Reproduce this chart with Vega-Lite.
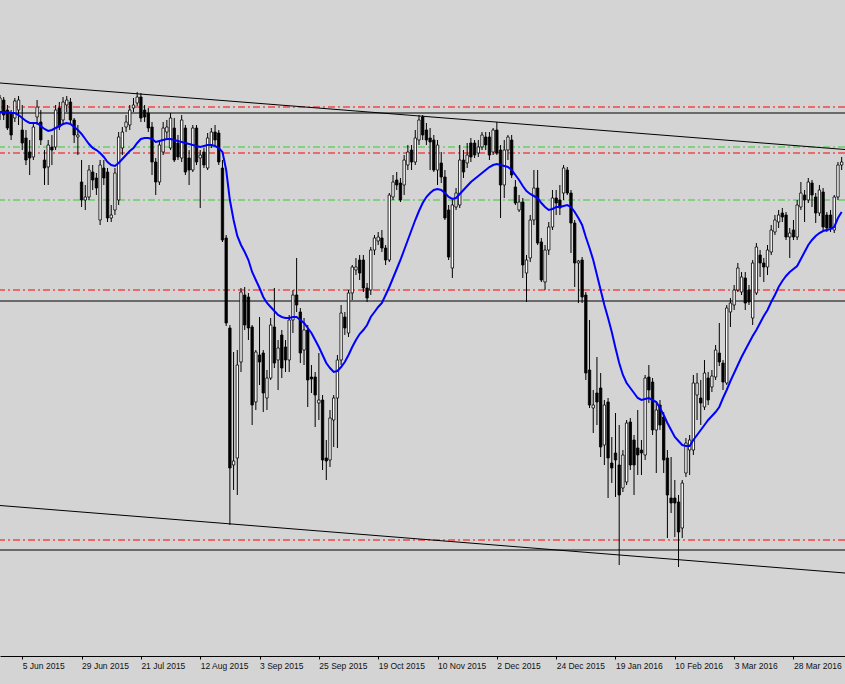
{
"$schema": "https://vega.github.io/schema/vega-lite/v6.json",
"width": 845, "height": 656,
"autosize": {"type": "none"},
"padding": {"left": 0, "top": 0, "right": 0, "bottom": 28},
"background": "#d4d4d4",
"config": {"view": {"stroke": null}},
"datasets": {
"lv": [
{"p": 893, "k": "red"}, {"p": 847, "k": "red"}, {"p": 710, "k": "red"}, {"p": 460, "k": "red"},
{"p": 853, "k": "green"}, {"p": 800, "k": "green"},
{"p": 887, "k": "black"}, {"p": 699, "k": "black"}, {"p": 450, "k": "black"}
],
"tl": [
{"t": "a", "i": 0, "p": 917}, {"t": "a", "i": 227.9, "p": 850.5},
{"t": "b", "i": 0, "p": 494.5}, {"t": "b", "i": 227.9, "p": 427}
],
"c": [
{"i":0,"o":888,"c":902,"h":905,"l":880,"m":888},
{"i":1,"o":900,"c":885,"h":903,"l":880,"m":888},
{"i":2,"o":890,"c":872,"h":895,"l":870,"m":888},
{"i":3,"o":887,"c":865,"h":890,"l":860,"m":887},
{"i":4,"o":882,"c":899,"h":902,"l":878,"m":887},
{"i":5,"o":890,"c":900,"h":904,"l":875,"m":885},
{"i":6,"o":870,"c":857,"h":895,"l":850,"m":882},
{"i":7,"o":862,"c":840,"h":870,"l":835,"m":879},
{"i":8,"o":848,"c":842,"h":860,"l":825,"m":877},
{"i":9,"o":843,"c":873,"h":878,"l":840,"m":877},
{"i":10,"o":883,"c":893,"h":900,"l":875,"m":877},
{"i":11,"o":878,"c":860,"h":890,"l":855,"m":874},
{"i":12,"o":840,"c":832,"h":850,"l":815,"m":871},
{"i":13,"o":833,"c":855,"h":860,"l":815,"m":869},
{"i":14,"o":853,"c":850,"h":865,"l":835,"m":870},
{"i":15,"o":853,"c":890,"h":895,"l":850,"m":872},
{"i":16,"o":892,"c":873,"h":898,"l":870,"m":874},
{"i":17,"o":880,"c":898,"h":903,"l":875,"m":876},
{"i":18,"o":895,"c":900,"h":904,"l":888,"m":877},
{"i":19,"o":898,"c":880,"h":902,"l":875,"m":876},
{"i":20,"o":880,"c":865,"h":882,"l":857,"m":873},
{"i":21,"o":863,"c":865,"h":875,"l":845,"m":870},
{"i":22,"o":818,"c":800,"h":840,"l":793,"m":866},
{"i":23,"o":800,"c":803,"h":815,"l":790,"m":861},
{"i":24,"o":803,"c":830,"h":835,"l":800,"m":856},
{"i":25,"o":828,"c":820,"h":835,"l":810,"m":852},
{"i":26,"o":822,"c":812,"h":827,"l":805,"m":850},
{"i":27,"o":780,"c":835,"h":840,"l":775,"m":847},
{"i":28,"o":832,"c":822,"h":840,"l":815,"m":843},
{"i":29,"o":828,"c":782,"h":832,"l":778,"m":838},
{"i":30,"o":782,"c":785,"h":795,"l":778,"m":835},
{"i":31,"o":790,"c":827,"h":832,"l":785,"m":834},
{"i":32,"o":800,"c":863,"h":868,"l":795,"m":837},
{"i":33,"o":852,"c":868,"h":873,"l":845,"m":841},
{"i":34,"o":873,"c":878,"h":885,"l":868,"m":845},
{"i":35,"o":875,"c":890,"h":895,"l":870,"m":849},
{"i":36,"o":892,"c":895,"h":902,"l":888,"m":852},
{"i":37,"o":897,"c":903,"h":908,"l":894,"m":857},
{"i":38,"o":903,"c":882,"h":907,"l":878,"m":861},
{"i":39,"o":890,"c":883,"h":895,"l":878,"m":862},
{"i":40,"o":887,"c":872,"h":892,"l":868,"m":862},
{"i":41,"o":873,"c":838,"h":878,"l":825,"m":861},
{"i":42,"o":838,"c":818,"h":842,"l":805,"m":858},
{"i":43,"o":818,"c":855,"h":860,"l":815,"m":859},
{"i":44,"o":848,"c":872,"h":878,"l":845,"m":860},
{"i":45,"o":868,"c":873,"h":880,"l":862,"m":861},
{"i":46,"o":852,"c":882,"h":887,"l":850,"m":861},
{"i":47,"o":872,"c":840,"h":882,"l":838,"m":860},
{"i":48,"o":857,"c":843,"h":865,"l":840,"m":859},
{"i":49,"o":842,"c":880,"h":885,"l":838,"m":858},
{"i":50,"o":872,"c":828,"h":875,"l":825,"m":857},
{"i":51,"o":842,"c":830,"h":850,"l":815,"m":856},
{"i":52,"o":830,"c":872,"h":875,"l":828,"m":855},
{"i":53,"o":872,"c":838,"h":875,"l":835,"m":854},
{"i":54,"o":842,"c":845,"h":850,"l":792,"m":853},
{"i":55,"o":848,"c":835,"h":852,"l":832,"m":854},
{"i":56,"o":832,"c":862,"h":867,"l":830,"m":855},
{"i":57,"o":855,"c":868,"h":872,"l":852,"m":855},
{"i":58,"o":868,"c":860,"h":875,"l":855,"m":854},
{"i":59,"o":867,"c":838,"h":870,"l":835,"m":852},
{"i":60,"o":832,"c":760,"h":840,"l":758,"m":848},
{"i":61,"o":762,"c":677,"h":765,"l":674,"m":830},
{"i":62,"o":672,"c":532,"h":675,"l":475,"m":800},
{"i":63,"o":535,"c":539,"h":648,"l":510,"m":780},
{"i":64,"o":542,"c":635,"h":650,"l":505,"m":764},
{"i":65,"o":638,"c":708,"h":712,"l":628,"m":755},
{"i":66,"o":705,"c":675,"h":713,"l":670,"m":748},
{"i":67,"o":703,"c":672,"h":707,"l":660,"m":740},
{"i":68,"o":673,"c":595,"h":675,"l":575,"m":728},
{"i":69,"o":598,"c":648,"h":650,"l":590,"m":720},
{"i":70,"o":645,"c":638,"h":683,"l":615,"m":712},
{"i":71,"o":647,"c":607,"h":650,"l":588,"m":703},
{"i":72,"o":602,"c":622,"h":630,"l":590,"m":697},
{"i":73,"o":622,"c":675,"h":682,"l":620,"m":693},
{"i":74,"o":673,"c":637,"h":712,"l":632,"m":689},
{"i":75,"o":640,"c":652,"h":660,"l":610,"m":685},
{"i":76,"o":665,"c":632,"h":670,"l":622,"m":683},
{"i":77,"o":653,"c":640,"h":660,"l":628,"m":682},
{"i":78,"o":640,"c":680,"h":685,"l":628,"m":682},
{"i":79,"o":680,"c":705,"h":710,"l":667,"m":683},
{"i":80,"o":705,"c":695,"h":742,"l":688,"m":683},
{"i":81,"o":688,"c":647,"h":692,"l":637,"m":680},
{"i":82,"o":650,"c":670,"h":682,"l":635,"m":677},
{"i":83,"o":670,"c":620,"h":675,"l":593,"m":672},
{"i":84,"o":623,"c":621,"h":635,"l":607,"m":667},
{"i":85,"o":623,"c":605,"h":628,"l":573,"m":660},
{"i":86,"o":597,"c":600,"h":647,"l":580,"m":653},
{"i":87,"o":600,"c":540,"h":605,"l":530,"m":645},
{"i":88,"o":542,"c":539,"h":560,"l":520,"m":637},
{"i":89,"o":540,"c":582,"h":590,"l":533,"m":632},
{"i":90,"o":580,"c":602,"h":605,"l":553,"m":628},
{"i":91,"o":602,"c":640,"h":645,"l":552,"m":629},
{"i":92,"o":640,"c":687,"h":695,"l":635,"m":633},
{"i":93,"o":683,"c":672,"h":688,"l":665,"m":638},
{"i":94,"o":667,"c":707,"h":710,"l":663,"m":645},
{"i":95,"o":707,"c":733,"h":735,"l":700,"m":653},
{"i":96,"o":730,"c":733,"h":742,"l":725,"m":660},
{"i":97,"o":740,"c":727,"h":745,"l":720,"m":666},
{"i":98,"o":740,"c":712,"h":745,"l":708,"m":670},
{"i":99,"o":712,"c":702,"h":717,"l":698,"m":675},
{"i":100,"o":710,"c":750,"h":753,"l":705,"m":683},
{"i":101,"o":750,"c":762,"h":765,"l":745,"m":688},
{"i":102,"o":759,"c":763,"h":768,"l":755,"m":693},
{"i":103,"o":762,"c":752,"h":770,"l":748,"m":697},
{"i":104,"o":752,"c":740,"h":755,"l":735,"m":705},
{"i":105,"o":740,"c":805,"h":807,"l":738,"m":713},
{"i":106,"o":803,"c":818,"h":825,"l":800,"m":722},
{"i":107,"o":820,"c":815,"h":828,"l":810,"m":731},
{"i":108,"o":817,"c":800,"h":822,"l":798,"m":740},
{"i":109,"o":815,"c":840,"h":845,"l":805,"m":750},
{"i":110,"o":835,"c":848,"h":855,"l":830,"m":760},
{"i":111,"o":850,"c":838,"h":855,"l":830,"m":770},
{"i":112,"o":838,"c":862,"h":870,"l":835,"m":780},
{"i":113,"o":860,"c":880,"h":885,"l":855,"m":789},
{"i":114,"o":883,"c":865,"h":885,"l":860,"m":797},
{"i":115,"o":870,"c":860,"h":877,"l":855,"m":803},
{"i":116,"o":862,"c":858,"h":872,"l":830,"m":807},
{"i":117,"o":860,"c":830,"h":865,"l":828,"m":810},
{"i":118,"o":830,"c":855,"h":860,"l":815,"m":811},
{"i":119,"o":837,"c":823,"h":848,"l":817,"m":810},
{"i":120,"o":823,"c":782,"h":830,"l":780,"m":807},
{"i":121,"o":790,"c":743,"h":795,"l":740,"m":803},
{"i":122,"o":732,"c":795,"h":800,"l":722,"m":801},
{"i":123,"o":793,"c":807,"h":812,"l":790,"m":802},
{"i":124,"o":795,"c":840,"h":855,"l":792,"m":806},
{"i":125,"o":840,"c":828,"h":850,"l":822,"m":810},
{"i":126,"o":837,"c":845,"h":857,"l":832,"m":814},
{"i":127,"o":857,"c":843,"h":862,"l":838,"m":818},
{"i":128,"o":857,"c":845,"h":860,"l":842,"m":821},
{"i":129,"o":847,"c":853,"h":860,"l":843,"m":824},
{"i":130,"o":853,"c":865,"h":868,"l":850,"m":827},
{"i":131,"o":863,"c":855,"h":868,"l":850,"m":830},
{"i":132,"o":863,"c":845,"h":868,"l":840,"m":833},
{"i":133,"o":848,"c":870,"h":872,"l":845,"m":835},
{"i":134,"o":870,"c":847,"h":878,"l":845,"m":836},
{"i":135,"o":850,"c":815,"h":855,"l":782,"m":835},
{"i":136,"o":815,"c":850,"h":860,"l":802,"m":834},
{"i":137,"o":850,"c":863,"h":865,"l":840,"m":833},
{"i":138,"o":860,"c":825,"h":865,"l":822,"m":830},
{"i":139,"o":813,"c":797,"h":820,"l":795,"m":825},
{"i":140,"o":790,"c":798,"h":805,"l":788,"m":820},
{"i":141,"o":798,"c":735,"h":802,"l":722,"m":814},
{"i":142,"o":727,"c":740,"h":745,"l":698,"m":809},
{"i":143,"o":742,"c":780,"h":785,"l":738,"m":806},
{"i":144,"o":780,"c":812,"h":830,"l":775,"m":804},
{"i":145,"o":812,"c":757,"h":830,"l":755,"m":802},
{"i":146,"o":758,"c":720,"h":762,"l":718,"m":797},
{"i":147,"o":718,"c":750,"h":755,"l":710,"m":793},
{"i":148,"o":750,"c":773,"h":778,"l":745,"m":790},
{"i":149,"o":773,"c":802,"h":810,"l":770,"m":791},
{"i":150,"o":802,"c":797,"h":810,"l":785,"m":793},
{"i":151,"o":800,"c":792,"h":815,"l":785,"m":793},
{"i":152,"o":807,"c":832,"h":835,"l":800,"m":794},
{"i":153,"o":830,"c":807,"h":833,"l":805,"m":795},
{"i":154,"o":807,"c":777,"h":810,"l":747,"m":793},
{"i":155,"o":777,"c":737,"h":780,"l":713,"m":788},
{"i":156,"o":737,"c":739,"h":740,"l":697,"m":782},
{"i":157,"o":740,"c":703,"h":743,"l":697,"m":775},
{"i":158,"o":705,"c":627,"h":708,"l":620,"m":763},
{"i":159,"o":630,"c":595,"h":680,"l":592,"m":752},
{"i":160,"o":592,"c":595,"h":610,"l":567,"m":740},
{"i":161,"o":607,"c":598,"h":643,"l":575,"m":725},
{"i":162,"o":612,"c":553,"h":627,"l":543,"m":710},
{"i":163,"o":555,"c":595,"h":600,"l":535,"m":695},
{"i":164,"o":598,"c":542,"h":602,"l":502,"m":682},
{"i":165,"o":537,"c":532,"h":563,"l":517,"m":668},
{"i":166,"o":547,"c":540,"h":587,"l":503,"m":652},
{"i":167,"o":535,"c":505,"h":575,"l":435,"m":637},
{"i":168,"o":512,"c":545,"h":550,"l":508,"m":625},
{"i":169,"o":518,"c":577,"h":580,"l":515,"m":617},
{"i":170,"o":578,"c":535,"h":582,"l":530,"m":612},
{"i":171,"o":560,"c":535,"h":565,"l":505,"m":607},
{"i":172,"o":552,"c":545,"h":590,"l":525,"m":602},
{"i":173,"o":550,"c":547,"h":560,"l":525,"m":600},
{"i":174,"o":545,"c":622,"h":625,"l":540,"m":601},
{"i":175,"o":623,"c":610,"h":635,"l":597,"m":602},
{"i":176,"o":618,"c":570,"h":622,"l":565,"m":600},
{"i":177,"o":570,"c":590,"h":597,"l":527,"m":598},
{"i":178,"o":595,"c":575,"h":600,"l":570,"m":592},
{"i":179,"o":583,"c":540,"h":588,"l":527,"m":585},
{"i":180,"o":542,"c":505,"h":550,"l":462,"m":577},
{"i":181,"o":502,"c":497,"h":543,"l":487,"m":570},
{"i":182,"o":502,"c":497,"h":520,"l":463,"m":563},
{"i":183,"o":498,"c":468,"h":505,"l":433,"m":559},
{"i":184,"o":472,"c":517,"h":520,"l":462,"m":555},
{"i":185,"o":527,"c":557,"h":562,"l":523,"m":554},
{"i":186,"o":550,"c":560,"h":565,"l":525,"m":554},
{"i":187,"o":550,"c":617,"h":625,"l":545,"m":560},
{"i":188,"o":605,"c":617,"h":627,"l":580,"m":565},
{"i":189,"o":602,"c":597,"h":620,"l":575,"m":570},
{"i":190,"o":593,"c":627,"h":640,"l":590,"m":575},
{"i":191,"o":622,"c":600,"h":628,"l":595,"m":580},
{"i":192,"o":613,"c":624,"h":630,"l":608,"m":584},
{"i":193,"o":623,"c":650,"h":655,"l":620,"m":588},
{"i":194,"o":647,"c":638,"h":677,"l":634,"m":593},
{"i":195,"o":637,"c":618,"h":640,"l":610,"m":602},
{"i":196,"o":617,"c":692,"h":695,"l":615,"m":610},
{"i":197,"o":688,"c":697,"h":702,"l":673,"m":619},
{"i":198,"o":695,"c":710,"h":715,"l":690,"m":627},
{"i":199,"o":710,"c":732,"h":737,"l":708,"m":635},
{"i":200,"o":708,"c":723,"h":728,"l":705,"m":643},
{"i":201,"o":722,"c":697,"h":728,"l":690,"m":650},
{"i":202,"o":710,"c":698,"h":715,"l":695,"m":657},
{"i":203,"o":682,"c":737,"h":740,"l":675,"m":664},
{"i":204,"o":707,"c":753,"h":757,"l":705,"m":670},
{"i":205,"o":745,"c":737,"h":750,"l":723,"m":677},
{"i":206,"o":737,"c":733,"h":742,"l":718,"m":684},
{"i":207,"o":733,"c":750,"h":755,"l":725,"m":690},
{"i":208,"o":748,"c":770,"h":775,"l":745,"m":698},
{"i":209,"o":768,"c":780,"h":785,"l":765,"m":705},
{"i":210,"o":778,"c":785,"h":790,"l":772,"m":713},
{"i":211,"o":787,"c":783,"h":792,"l":778,"m":719},
{"i":212,"o":785,"c":763,"h":788,"l":760,"m":724},
{"i":213,"o":763,"c":767,"h":772,"l":742,"m":728},
{"i":214,"o":770,"c":763,"h":780,"l":760,"m":731},
{"i":215,"o":763,"c":795,"h":800,"l":760,"m":734},
{"i":216,"o":793,"c":807,"h":818,"l":790,"m":741},
{"i":217,"o":805,"c":800,"h":810,"l":778,"m":748},
{"i":218,"o":800,"c":818,"h":822,"l":797,"m":755},
{"i":219,"o":817,"c":805,"h":820,"l":793,"m":760},
{"i":220,"o":803,"c":787,"h":807,"l":777,"m":764},
{"i":221,"o":787,"c":810,"h":815,"l":784,"m":767},
{"i":222,"o":808,"c":773,"h":812,"l":770,"m":769},
{"i":223,"o":785,"c":772,"h":788,"l":768,"m":770},
{"i":224,"o":785,"c":772,"h":790,"l":768,"m":771},
{"i":225,"o":770,"c":803,"h":805,"l":767,"m":773},
{"i":226,"o":803,"c":835,"h":838,"l":800,"m":782},
{"i":227,"o":835,"c":838,"h":843,"l":830,"m":788}
]
},
"encoding": {
"x": {"field": "i", "type": "quantitative",
  "scale": {"domain": [0, 227.9], "nice": false, "zero": false, "padding": 0},
  "axis": {"title": null, "grid": false,
    "values": [6, 22, 38, 54, 70, 86, 102, 118, 134, 150, 166, 182, 198, 214],
    "labelExpr": "['5 Jun 2015','29 Jun 2015','21 Jul 2015','12 Aug 2015','3 Sep 2015','25 Sep 2015','19 Oct 2015','10 Nov 2015','2 Dec 2015','24 Dec 2015','19 Jan 2016','10 Feb 2016','3 Mar 2016','28 Mar 2016'][round((datum.value - 6) / 16)]",
    "labelAlign": "left", "labelBaseline": "top", "labelPadding": 2, "labelOverlap": false, "labelFlush": false, "labelBound": false,
    "labelFont": "Liberation Sans", "labelFontSize": 8.5, "labelColor": "#111111",
    "tickSize": 3, "tickColor": "#000000", "domainColor": "#000000", "domainWidth": 1}}
},
"layer": [
{"data": {"name": "lv"}, "transform": [{"filter": "datum.k != 'black'"}],
 "mark": {"type": "rule", "strokeWidth": 1, "strokeDash": [7, 3, 2, 3]},
 "encoding": {"x": null,
   "y": {"field": "p", "type": "quantitative", "scale": {"domain": [344, 1000], "nice": false, "zero": false}, "axis": null},
   "color": {"field": "k", "type": "nominal", "scale": {"domain": ["red", "green"], "range": ["#ff0000", "#33cc33"]}, "legend": null}}},
{"data": {"name": "lv"}, "transform": [{"filter": "datum.k == 'black'"}],
 "mark": {"type": "rule", "strokeWidth": 1, "color": "#000000"},
 "encoding": {"x": null,
   "y": {"field": "p", "type": "quantitative"}}},
{"data": {"name": "tl"},
 "mark": {"type": "line", "strokeWidth": 1, "color": "#000000", "clip": true},
 "encoding": {"y": {"field": "p", "type": "quantitative"}, "detail": {"field": "t"}}},
{"data": {"name": "c"},
 "mark": {"type": "rule", "strokeWidth": 1, "color": "#000000", "clip": true},
 "encoding": {"y": {"field": "l", "type": "quantitative"}, "y2": {"field": "h"}}},
{"data": {"name": "c"},
 "mark": {"type": "bar", "width": 2.4, "stroke": "#000000", "strokeWidth": 0.8, "clip": true},
 "encoding": {"y": {"field": "o", "type": "quantitative"}, "y2": {"field": "c"},
   "fill": {"condition": {"test": "datum.c > datum.o", "value": "#ffffff"}, "value": "#000000"}}},
{"data": {"name": "c"},
 "mark": {"type": "line", "strokeWidth": 2, "color": "#0000ff", "clip": true},
 "encoding": {"y": {"field": "m", "type": "quantitative"}}}
]
}
